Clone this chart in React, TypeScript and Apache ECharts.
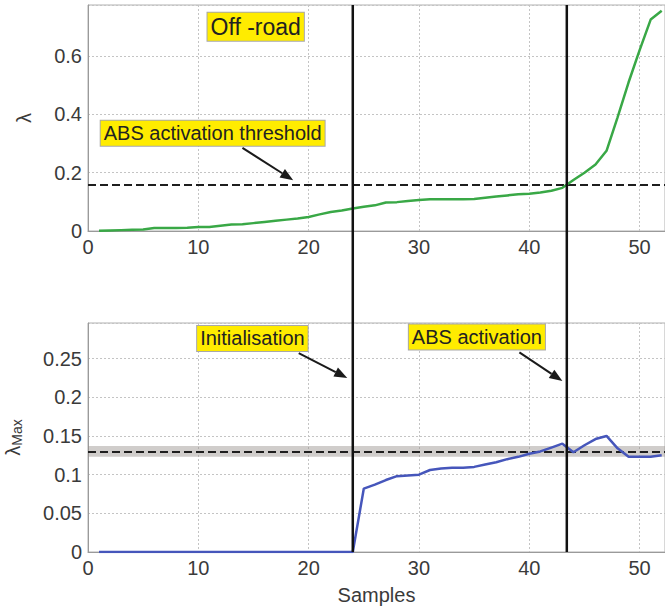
import React, { useEffect, useRef } from "react";
import * as echarts from "echarts";

// Sample index (x axis of both panels)
const samples: number[] = Array.from({ length: 52 }, (_, i) => i + 1);

// Measured wheel slip λ (upper panel)
const slip: number[] = [
  0.001, 0.002, 0.003, 0.004, 0.005, 0.010, 0.010, 0.010, 0.011, 0.014,
  0.014, 0.018, 0.022, 0.023, 0.027, 0.031, 0.035, 0.039, 0.043, 0.048,
  0.057, 0.065, 0.070, 0.077, 0.083, 0.088, 0.098, 0.099, 0.103, 0.106,
  0.109, 0.109, 0.109, 0.109, 0.110, 0.114, 0.118, 0.122, 0.126, 0.128,
  0.132, 0.138, 0.148, 0.175, 0.200, 0.228, 0.275, 0.390, 0.510, 0.620,
  0.725, 0.755,
];

// Estimated optimal slip λMax (lower panel)
const slipMax: number[] = [
  0, 0, 0, 0, 0, 0, 0, 0, 0, 0,
  0, 0, 0, 0, 0, 0, 0, 0, 0, 0,
  0, 0, 0, 0, 0.082, 0.087, 0.093, 0.098, 0.099, 0.100,
  0.106, 0.108, 0.109, 0.109, 0.110, 0.113, 0.116, 0.120, 0.123, 0.127,
  0.130, 0.135, 0.140, 0.129, 0.138, 0.146, 0.150, 0.134, 0.123, 0.123,
  0.123, 0.125,
];

const activationThreshold = 0.156;
const trueOptimum = 0.13;
const optimumBand: [number, number] = [0.123, 0.137];
// Initialisation and ABS activation instants
const eventSamples: number[] = [24, 43.4];

// Annotation boxes: [label, grid, x, y, fontSize]
const labels: [string, number, number, number, number][] = [
  ["Off -road", 0, 15.2, 0.7, 23],
  ["ABS activation threshold", 0, 11.3, 0.335, 20],
  ["Initialisation", 1, 14.9, 0.276, 20],
  ["ABS activation", 1, 35.25, 0.278, 20],
];
// Arrows: [grid, x0, y0, x1, y1]
const arrows: [number, number, number, number, number][] = [
  [0, 14.0, 0.285, 18.6, 0.174],
  [1, 19.1, 0.257, 23.5, 0.225],
  [1, 39.1, 0.258, 43.0, 0.221],
];

const FONT = "'Liberation Sans', Arial, Helvetica, sans-serif";
const TXT = "#3a3a3a";

function zip(xs: number[], ys: number[]) {
  return xs.map((x, i) => [x, ys[i]]);
}

export default function App() {
  const ref = useRef<HTMLDivElement>(null);

  useEffect(() => {
    if (!ref.current) return;
    const chart = echarts.init(ref.current, undefined, { renderer: "svg" });

    const xAxisBase = (idx: number, withName: boolean) => ({
      type: "value" as const,
      gridIndex: idx,
      min: 0,
      max: 52.3,
      interval: 10,
      axisLine: { show: true, lineStyle: { color: "#9a9a9a", width: 1 } },
      axisTick: { show: false },
      axisLabel: {
        color: TXT,
        fontSize: 20,
        fontFamily: FONT,
        margin: 6,
        formatter: (v: number) => (v % 10 === 0 ? String(v) : ""),
      },
      splitLine: { show: true, lineStyle: { color: "#c4c4c4", type: [2, 2], width: 1 } },
      name: withName ? "Samples" : "",
      nameLocation: "middle" as const,
      nameGap: 33,
      nameTextStyle: { color: TXT, fontSize: 20, fontFamily: FONT },
    });

    const yLabelFmt = (step: number) => (v: number) => {
      const k = Math.round(v / step);
      if (Math.abs(k * step - v) > 1e-9) return "";
      return String(parseFloat(v.toFixed(3)));
    };

    const gridBase = {
      left: 88,
      right: 0,
      show: true,
      borderColor: "#b0b0b0",
      borderWidth: 1,
      backgroundColor: "transparent",
      containLabel: false,
      outerBoundsMode: "none",
    };

    const option: any = {
      animation: false,
      backgroundColor: "#ffffff",
      grid: [
        { ...gridBase, top: 5, height: 226 },
        { ...gridBase, top: 323, height: 229 },
      ],
      xAxis: [xAxisBase(0, false), xAxisBase(1, true)],
      yAxis: [
        {
          type: "value",
          gridIndex: 0,
          min: 0,
          max: 0.775,
          interval: 0.2,
          axisLine: { show: true, lineStyle: { color: "#9a9a9a" } },
          axisTick: { show: false },
          axisLabel: { color: TXT, fontSize: 20, fontFamily: FONT, margin: 6, formatter: yLabelFmt(0.2) },
          splitLine: { show: true, lineStyle: { color: "#c4c4c4", type: [2, 2], width: 1 } },
          name: "λ",
          nameLocation: "middle",
          nameRotate: 90,
          nameGap: 54,
          nameTextStyle: { color: TXT, fontSize: 20, fontFamily: FONT },
        },
        {
          type: "value",
          gridIndex: 1,
          min: 0,
          max: 0.296,
          interval: 0.05,
          axisLine: { show: true, lineStyle: { color: "#9a9a9a" } },
          axisTick: { show: false },
          axisLabel: { color: TXT, fontSize: 20, fontFamily: FONT, margin: 6, formatter: yLabelFmt(0.05) },
          splitLine: { show: true, lineStyle: { color: "#c4c4c4", type: [2, 2], width: 1 } },
          name: "{l|λ}{s|Max}",
          nameLocation: "middle",
          nameRotate: 90,
          nameGap: 64,
          nameTextStyle: {
            color: TXT,
            fontFamily: FONT,
            rich: {
              l: { fontSize: 20, fontFamily: FONT, color: TXT },
              s: { fontSize: 14, fontFamily: FONT, color: TXT, padding: [8, 0, 0, 0] },
            },
          },
        },
      ],
      series: [
        {
          type: "line",
          xAxisIndex: 0,
          yAxisIndex: 0,
          data: zip(samples, slip),
          showSymbol: false,
          lineStyle: { color: "#39a846", width: 2.5 },
          z: 5,
          markLine: {
            silent: true,
            symbol: "none",
            label: { show: false },
            lineStyle: { color: "#1e1e1e", width: 2, type: [8, 4] },
            data: [{ yAxis: activationThreshold }],
          },
        },
        {
          type: "line",
          xAxisIndex: 1,
          yAxisIndex: 1,
          data: zip(samples, slipMax),
          showSymbol: false,
          lineStyle: { color: "#4656bb", width: 2.5 },
          z: 5,
          markArea: {
            silent: true,
            itemStyle: { color: "rgba(150,145,140,0.45)" },
            data: [[{ yAxis: optimumBand[0] }, { yAxis: optimumBand[1] }]],
          },
          markLine: {
            silent: true,
            symbol: "none",
            label: { show: false },
            lineStyle: { color: "#1e1e1e", width: 2, type: [8, 4] },
            data: [{ yAxis: trueOptimum }],
          },
        },
      ],
    };

    chart.setOption(option);

    // Overlay: event lines spanning both panels, arrows, yellow labels
    const graphics: any[] = [];
    const topY = (chart.convertToPixel({ gridIndex: 0 }, [0, 0.775]) as number[])[1];
    const botY = (chart.convertToPixel({ gridIndex: 1 }, [0, 0]) as number[])[1];
    eventSamples.forEach((s) => {
      const px = (chart.convertToPixel({ gridIndex: 0 }, [s, 0]) as number[])[0];
      graphics.push({
        type: "line",
        shape: { x1: px, y1: topY, x2: px, y2: botY },
        style: { stroke: "#111111", lineWidth: 2.5 },
        z: 100,
      });
    });

    arrows.forEach(([g, x0, y0, x1, y1]) => {
      const p0 = chart.convertToPixel({ gridIndex: g }, [x0, y0]) as number[];
      const p1 = chart.convertToPixel({ gridIndex: g }, [x1, y1]) as number[];
      const dx = p1[0] - p0[0];
      const dy = p1[1] - p0[1];
      const len = Math.hypot(dx, dy);
      const ux = dx / len;
      const uy = dy / len;
      const headL = 13;
      const headW = 5;
      const bx = p1[0] - ux * headL;
      const by = p1[1] - uy * headL;
      graphics.push({
        type: "line",
        shape: { x1: p0[0], y1: p0[1], x2: bx, y2: by },
        style: { stroke: "#1a1a1a", lineWidth: 2 },
        z: 110,
      });
      graphics.push({
        type: "polygon",
        shape: {
          points: [
            [p1[0], p1[1]],
            [bx - uy * headW, by + ux * headW],
            [bx + uy * headW, by - ux * headW],
          ],
        },
        style: { fill: "#1a1a1a" },
        z: 110,
      });
    });

    labels.forEach(([text, g, x, y, fs]) => {
      const p = chart.convertToPixel({ gridIndex: g }, [x, y]) as number[];
      graphics.push({
        type: "text",
        x: p[0],
        y: p[1],
        z: 120,
        style: {
          text,
          fill: "#222222",
          fontSize: fs,
          fontFamily: FONT,
          align: "center",
          verticalAlign: "middle",
          backgroundColor: "#ffec00",
          borderColor: "#a8a8a8",
          borderWidth: 1,
          padding: [3, 3, 2, 3],
        },
      });
    });

    chart.setOption({ graphic: graphics });

    return () => chart.dispose();
  }, []);

  return (
    <div
      ref={ref}
      style={{ position: "absolute", left: 0, top: 0, width: 665, height: 606, background: "#fff" }}
    />
  );
}
